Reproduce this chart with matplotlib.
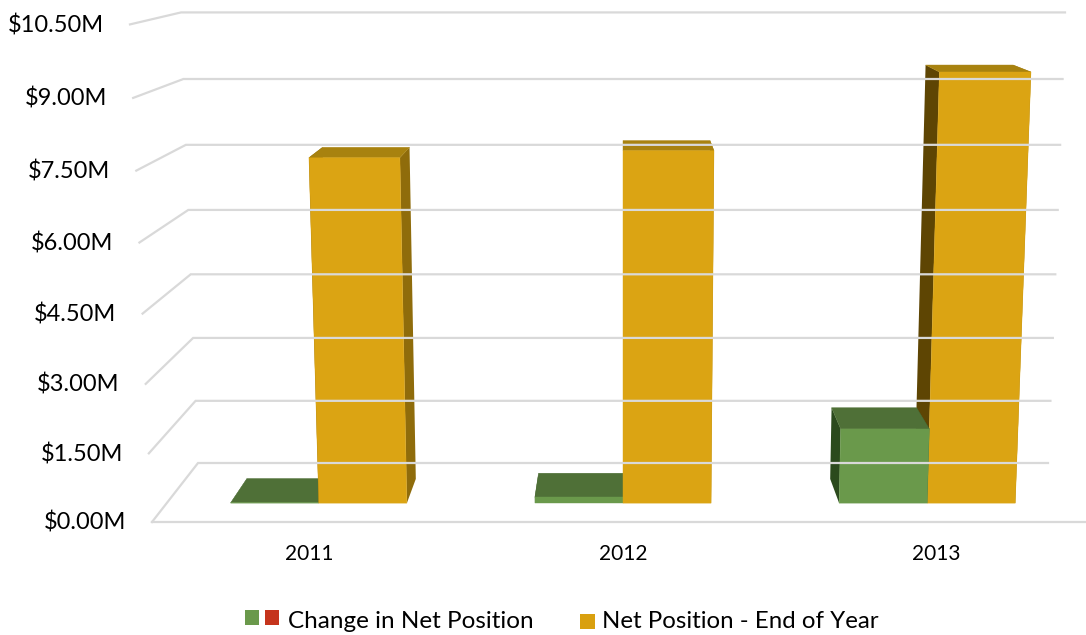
import matplotlib
matplotlib.use('Agg')
import matplotlib.pyplot as plt
from matplotlib.patches import Polygon, Rectangle

plt.rcParams['font.family'] = ['Lato', 'DejaVu Sans']

years = ['2011', '2012', '2013']
change_in_position = [0.01, 0.135, 1.67]
net_position = [7.60, 7.75, 9.42]
ticks = [0, 1.5, 3, 4.5, 6, 7.5, 9, 10.5]
tick_labels = ['$0.00M', '$1.50M', '$3.00M', '$4.50M', '$6.00M', '$7.50M', '$9.00M', '$10.50M']

# front, top, left side, right side
GREEN = ('#6A994B', '#4F7037', '#2B4A1D', '#2B4A1D')
GOLD = ('#DBA413', '#A8820F', '#5E4503', '#8F6C0B')
GRID = '#D9D9D9'
VMAX = 10.5
BAR_W = 0.193
T_FRONT, T_BACK = 0.68, 0.27


def project(x, v, t):
    # x: -1..1 across the floor, v: value in $M, t: 0 back wall .. 1 front edge
    y_back = 463 - 41.2 * v - 0.163 * v ** 2
    y_front = 522 - 45.5 * v - 0.18 * v ** 2
    hw_low = 425 + 46 * t
    hw_high = 442 + 51 * t
    hw = hw_low + (hw_high - hw_low) * v / VMAX
    return 623 + x * hw, y_back + (y_front - y_back) * t


def draw_bar(ax, x0, x1, v, colors):
    front, top, left, right = colors
    for x, side in ((x0, left), (x1, right)):
        pts = [project(x, 0, T_FRONT), project(x, 0, T_BACK), project(x, v, T_BACK), project(x, v, T_FRONT)]
        ax.add_patch(Polygon(pts, fc=side, ec='none'))
    pts = [project(x0, v, T_FRONT), project(x0, v, T_BACK), project(x1, v, T_BACK), project(x1, v, T_FRONT)]
    ax.add_patch(Polygon(pts, fc=top, ec=top, lw=0.3))
    pts = [project(x0, 0, T_FRONT), project(x1, 0, T_FRONT), project(x1, v, T_FRONT), project(x0, v, T_FRONT)]
    ax.add_patch(Polygon(pts, fc=front, ec=front, lw=0.3))


fig = plt.figure(figsize=(10.86, 6.35), dpi=100)
ax = fig.add_axes([0, 0, 1, 1])
ax.set_xlim(0, 1086)
ax.set_ylim(635, 0)
ax.axis('off')

# walls
for v, lab in zip(ticks, tick_labels):
    xa, ya = project(-1, v, 1)
    xb, yb = project(-1, v, 0)
    xc, yc = project(1, v, 0)
    ax.plot([xa, xb, xc], [ya, yb, yc], color=GRID, lw=1.6, solid_joinstyle='miter')
    ax.text(xa - 26, ya + 1, lab, ha='right', va='center', fontsize=17, color='black')
xa, ya = project(-1, 0, 1)
xc, yc = project(1, 0, 1)
ax.plot([xa, xc], [ya, yc], color=GRID, lw=1.6)

# bars, the ones further from the centre go first
bars = []
for i in range(len(years)):
    c = (i - 1) * 2 / 3
    bars.append((c - BAR_W, c, change_in_position[i], GREEN))
    bars.append((c, c + BAR_W, net_position[i], GOLD))
bars.sort(key=lambda b: -abs((b[0] + b[1]) / 2))
for b in bars:
    draw_bar(ax, *b)

for i, year in enumerate(years):
    x, _ = project((i - 1) * 2 / 3, 0, 1)
    ax.text(x * 0.998 + 1, 554, year, ha='center', va='center', fontsize=15, color='black')

# legend
ax.add_patch(Rectangle((245, 610), 14, 15, fc='#6A994B', ec='none'))
ax.add_patch(Rectangle((265, 610), 14, 15, fc='#C5341C', ec='none'))
ax.text(288, 621, 'Change in Net Position', ha='left', va='center', fontsize=17.5, color='black')
ax.add_patch(Rectangle((580, 614), 15, 15, fc='#D9A00F', ec='none'))
ax.text(602, 621, 'Net Position - End of Year', ha='left', va='center', fontsize=17.3, color='black')

fig.savefig('out.png', dpi=100)
